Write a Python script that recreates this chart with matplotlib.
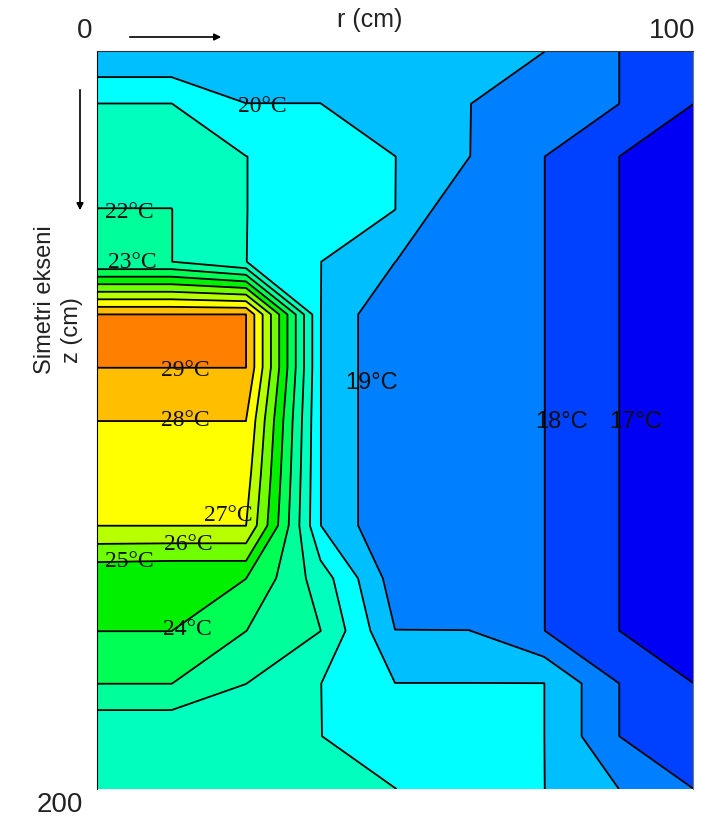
import numpy as np
import matplotlib
matplotlib.use("Agg")
import matplotlib.pyplot as plt

plt.rcParams['font.family'] = ['Liberation Sans', 'DejaVu Sans']

# grid nodes (cm)
r_nodes = [0, 12.5, 25, 37.5, 50, 62.5, 75, 87.5, 100]
z_nodes = [0, 14.3, 28.6, 42.9, 57.1, 71.4, 85.7, 100, 114.3, 128.6, 142.9, 157.1, 171.4, 185.7, 200]

# temperature (C) at the nodes, one row per z node
temp_rows = [
    [19, 19, 19, 19, 19, 19, 19, 18, 17],
    [21, 21, 20, 20, 19, 19, 18.5, 18, 17],
    [21.5, 21.5, 21, 20.5, 20, 19, 18, 17, 16],
    [22, 22, 21, 20.5, 20, 18, 18, 17, 16],
    [22, 22, 21, 20, 19, 18, 18, 17, 16],
    [29, 29, 29, 20, 18, 18, 18, 17, 16],
    [29, 29, 29, 20, 18, 18, 18, 17, 16],
    [28, 28, 28, 20, 18, 18, 18, 17, 16],
    [27.5, 27.5, 27.5, 20, 18, 18, 18, 17, 16],
    [27, 27, 27, 20, 18, 18, 18, 17, 16],
    [24.1, 24, 24, 21.5, 18.5, 18, 18, 17, 16],
    [24, 24, 23, 22, 19, 19, 18, 17, 16],
    [23, 23, 22, 21, 20, 20, 20, 18, 17],
    [21, 21, 21, 21, 20.5, 20.5, 20, 18, 17],
    [21, 21, 21, 21.5, 21, 20.5, 20, 19, 18],
]

contour_levels = [17, 18, 19, 20, 21, 22, 23, 24, 25, 26, 27, 28, 29]
band_colors = ['#0000F5', '#0040FF', '#0080FF', '#00BFFF', '#00FFFF', '#00FFBF',
               '#00FF9A', '#00FF55', '#00F000', '#70FF00', '#B8FF00', '#FFFF00',
               '#FFBF00', '#FF8000']

# contour labels
label_text = ['20°C', '22°C', '23°C', '29°C', '28°C', '27°C', '26°C', '25°C', '24°C',
              '19°C', '18°C', '17°C']

T = np.array(temp_rows)
R, Z = np.meshgrid(r_nodes, z_nodes)
# nodes sitting exactly on a level belong to the band above it
line_levels = [lv - 0.01 for lv in contour_levels]
fill_levels = [T.min() - 1] + line_levels + [T.max() + 1]

fig = plt.figure(figsize=(7.2, 8.2), dpi=100)
ax = fig.add_axes([97 / 720, 1 - 790 / 820, 596 / 720, 738 / 820])
ax.contourf(R, Z, T, levels=fill_levels, colors=band_colors)
ax.contour(R, Z, T, levels=line_levels, colors='black', linewidths=1.3)
ax.set_xlim(0, 100)
ax.set_ylim(200, 0)
ax.set_xticks([])
ax.set_yticks([])
ax.spines['bottom'].set_visible(False)
ax.spines['left'].set_color('black')
ax.spines['top'].set_color('#333333')
ax.spines['right'].set_color('#777777')

# label placement (r, z) in data units
label_pos = [(27.7, 14.7), (5.5, 43.6), (5.9, 57.0), (14.9, 86.2), (14.9, 100.0),
             (22.0, 125.5), (15.3, 133.6), (5.4, 138.2), (15.2, 156.5),
             (46.0, 89.8), (78.0, 100.3), (90.4, 100.3)]
for i, txt in enumerate(label_text):
    serif = i < 9
    ax.text(label_pos[i][0], label_pos[i][1], txt, ha='center', va='center',
            fontsize=17, color='#101010',
            family=['Liberation Serif'] if serif else ['Liberation Sans'])

# outer annotations
def px(x, y):
    return x / 720, 1 - y / 820

fig.text(*px(85, 31), '0', fontsize=20, ha='center', va='center', color='#222222')
fig.text(*px(672, 31), '100', fontsize=20, ha='center', va='center', color='#222222')
fig.text(*px(60, 805), '200', fontsize=20, ha='center', va='center', color='#222222')
fig.text(*px(370, 20), 'r (cm)', fontsize=18, ha='center', va='center', color='#222222')
fig.text(*px(45, 300), 'Simetri ekseni', fontsize=17, ha='center', va='center',
         rotation=90, color='#222222')
fig.text(*px(72, 330), 'z (cm)', fontsize=17, ha='center', va='center',
         rotation=90, color='#222222')

ax.annotate('', xy=px(224, 38), xytext=px(127, 38), xycoords='figure fraction',
            textcoords='figure fraction',
            arrowprops=dict(arrowstyle='-|>', color='black', lw=1.2, mutation_scale=10))
ax.annotate('', xy=px(80, 214), xytext=px(80, 88), xycoords='figure fraction',
            textcoords='figure fraction',
            arrowprops=dict(arrowstyle='-|>', color='black', lw=1.2, mutation_scale=10))

fig.savefig('out.png', dpi=100)
